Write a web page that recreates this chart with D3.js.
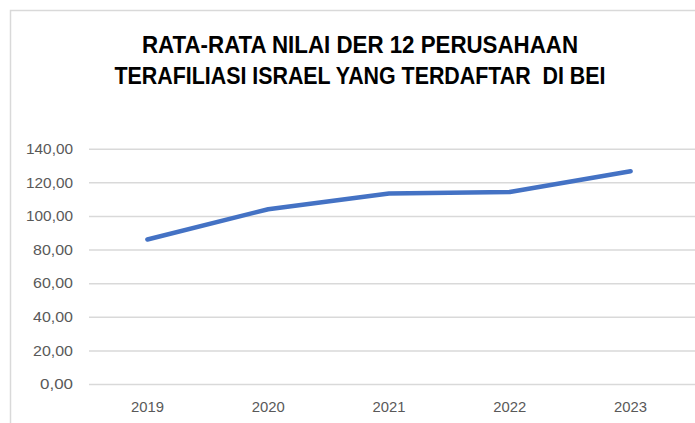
<!DOCTYPE html>
<html><head><meta charset="utf-8">
<script src="https://cdn.jsdelivr.net/npm/d3@7"></script>
<style>body{margin:0;background:#fff}svg{display:block}</style>
</head><body>
<script>
const years = ["2019","2020","2021","2022","2023"];
const values = [86.0, 104.0, 113.3, 114.2, 126.6];
const yTicks = [0,20,40,60,80,100,120,140];
const titleLines = ["RATA-RATA NILAI DER 12 PERUSAHAAN","TERAFILIASI ISRAEL YANG TERDAFTAR  DI BEI"];

const W=695,H=423;
const svg=d3.select("body").append("svg").attr("width",W).attr("height",H);
svg.append("rect").attr("x",10.5).attr("y",10.5).attr("width",W+20).attr("height",H+20)
  .attr("fill","#fff").attr("stroke","#d9d9d9").attr("stroke-width",1.5);

const x=d3.scaleBand().domain(years).range([87,691]);
const y=d3.scaleLinear().domain([0,140]).range([384,148.7]);

const tl=[{w:436,y:52.5},{w:491,y:84}];
svg.selectAll("text.title").data(titleLines).join("text").attr("class","title")
  .attr("x",360).attr("y",(d,i)=>tl[i].y).attr("text-anchor","middle")
  .attr("font-family","Liberation Sans, Arial, sans-serif").attr("font-weight","bold")
  .attr("font-size",23).attr("fill","#000")
  .attr("textLength",(d,i)=>tl[i].w).attr("lengthAdjust","spacingAndGlyphs")
  .style("white-space","pre").text(d=>d);

const fmt=v=>d3.format(".2f")(v).replace(".",",");
const ya=svg.append("g").attr("transform","translate(89,0)")
  .call(d3.axisLeft(y).tickValues(yTicks).tickSize(-606).tickFormat(fmt).tickPadding(16));
ya.select(".domain").remove();
ya.selectAll("line").attr("stroke","#d9d9d9").attr("stroke-width",1.5);
ya.selectAll("text").attr("font-family","Liberation Sans, Arial, sans-serif").attr("font-size",15).attr("fill","#595959")
  .attr("textLength",47).attr("lengthAdjust","spacingAndGlyphs");
ya.selectAll(".tick").filter(d=>d<100).select("text").attr("textLength",40);
ya.selectAll(".tick").filter(d=>d===0).select("text").attr("textLength",33);

const xa=svg.append("g").attr("transform","translate(0,384)")
  .call(d3.axisBottom(x).tickSize(0).tickPadding(17));
xa.select(".domain").remove();
xa.selectAll("text").attr("font-family","Liberation Sans, Arial, sans-serif").attr("font-size",15).attr("fill","#595959")
  .attr("textLength",33).attr("lengthAdjust","spacingAndGlyphs");

const line=d3.line().x((d,i)=>x(years[i])+x.bandwidth()/2).y(d=>y(d));
svg.append("path").datum(values).attr("d",line).attr("fill","none")
  .attr("stroke","#4472C4").attr("stroke-width",4.5).attr("stroke-linecap","round").attr("stroke-linejoin","round");
</script>
</body></html>
